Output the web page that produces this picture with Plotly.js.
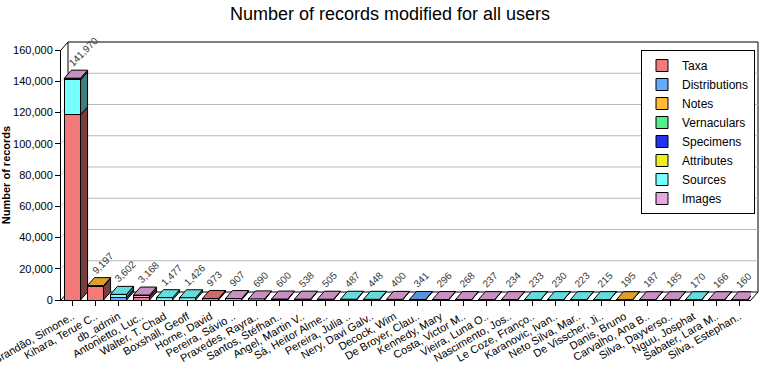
<!DOCTYPE html>
<html><head><meta charset="utf-8">
<script src="https://cdn.plot.ly/plotly-3.0.1.min.js"></script>
<style>html,body{margin:0;padding:0;background:#fff}#chart{width:780px;height:380px}</style>
</head><body><div id="chart"></div>
<script>
const users = ["Brandão, Simone..","Kihara, Terue C..","db_admin","Antonietto, Luc..","Walter, T. Chad","Boxshall, Geoff","Horne, David","Pereira, Sávio ..","Praxedes, Rayra..","Santos, Stéfhan..","Angel, Martin V..","Sá, Heitor Alme..","Pereira, Julia ..","Nery, Davi Galv..","Decock, Wim","De Broyer, Clau..","Kennedy, Mary","Costa, Victor M..","Vieira, Luna O..","Nascimento, Jos..","Le Coze, Franço..","Karanovic, Ivan..","Neto Silva, Mar..","De Visscher, Ji..","Danis, Bruno","Carvalho, Ana B..","Silva, Dayverso..","Nguu, Josphat","Sabater, Lara M..","Silva, Estephan.."];
const taxa          = [118500,8700,0,1800,0,0,973,0,0,0,0,0,0,0,0,0,0,0,0,0,0,0,0,0,0,0,0,0,0,0];
const distributions = [0,0,1500,0,0,0,0,0,0,0,0,0,0,0,0,341,0,0,0,0,0,0,0,0,0,0,0,0,0,0];
const notes         = [0,497,0,0,0,0,0,0,0,0,0,0,0,0,0,0,0,0,0,0,0,0,0,0,195,0,0,0,0,0];
const vernaculars   = [0,0,0,0,0,0,0,0,0,0,0,0,0,0,0,0,0,0,0,0,0,0,0,0,0,0,0,0,0,0];
const specimens     = [0,0,0,0,0,0,0,0,0,0,0,0,0,0,0,0,0,0,0,0,0,0,0,0,0,0,0,0,0,0];
const attributes    = [0,0,0,0,0,0,0,0,0,0,0,0,0,0,0,0,0,0,0,0,0,0,0,0,0,0,0,0,0,0];
const sources       = [22400,0,2102,0,1477,1426,0,0,0,0,0,0,487,448,0,0,0,0,0,0,233,230,223,215,0,0,0,170,0,0];
const images        = [1070,0,0,1368,0,0,0,907,690,600,538,505,0,0,400,0,296,268,237,234,0,0,0,0,0,187,185,0,166,160];
const seriesNames = ["Taxa","Distributions","Notes","Vernaculars","Specimens","Attributes","Sources","Images"];
const yTicks = [0,20000,40000,60000,80000,100000,120000,140000,160000];

const seriesData = [taxa,distributions,notes,vernaculars,specimens,attributes,sources,images];
const colors = ["#f27a7a","#66aaff","#ffbb33","#55ee88","#2233ee","#eeee22","#77ffff","#e6a8e0"];

function shade(hex,f){const n=parseInt(hex.slice(1),16);const r=Math.round(((n>>16)&255)*f),g=Math.round(((n>>8)&255)*f),b=Math.round((n&255)*f);return "rgb("+r+","+g+","+b+")";}

const N = users.length;
const xs = users.map((_,i)=>i);
const W = 0.7;
const DX = 7/23;
const DY = 8*160000/250;

const traces = [];
seriesData.forEach((arr,s)=>{
  traces.push({type:'bar',name:seriesNames[s],x:xs,y:arr,width:W,
    marker:{color:colors[s],line:{color:'#000',width:1}},hoverinfo:'skip'});
});

const totals = xs.map(i=>seriesData.reduce((a,arr)=>a+arr[i],0));
seriesData.forEach((arr,s)=>{
  const sx=[],sy=[],tx=[],ty=[];
  xs.forEach(i=>{
    if(!arr[i]) return;
    let b=0; for(let k=0;k<s;k++) b+=seriesData[k][i];
    const t=b+arr[i];
    const r=i+W/2, l=i-W/2;
    sx.push(r,r+DX,r+DX,r,r,null); sy.push(b,b+DY,t+DY,t,b,null);
    let isTop=true; for(let k=s+1;k<seriesData.length;k++) if(seriesData[k][i]) isTop=false;
    if(isTop){ tx.push(l,r,r+DX,l+DX,l,null); ty.push(t,t,t+DY,t+DY,t,null); }
  });
  if(sx.length) traces.push({type:'scatter',mode:'lines',x:sx,y:sy,fill:'toself',fillcolor:shade(colors[s],0.5),
    line:{color:'#000',width:1},showlegend:false,hoverinfo:'skip'});
  if(tx.length) traces.push({type:'scatter',mode:'lines',x:tx,y:ty,fill:'toself',fillcolor:shade(colors[s],0.86),
    line:{color:'#000',width:1},showlegend:false,hoverinfo:'skip'});
});

const L=61,T=50,PW=690,PH=250;
const X=px=>(px-L)/PW, Y=py=>(T+PH-py)/PH;
const shapes=[
  {type:'rect',xref:'paper',yref:'paper',x0:X(68),x1:X(758),y0:Y(292),y1:Y(42),line:{color:'#000',width:1},fillcolor:'#fff',layer:'below'},
  {type:'line',xref:'paper',yref:'paper',x0:X(61),y0:Y(50),x1:X(68),y1:Y(42),line:{color:'#000',width:1},layer:'below'},
  {type:'line',xref:'paper',yref:'paper',x0:X(61),y0:Y(300),x1:X(68),y1:Y(292),line:{color:'#000',width:1},layer:'below'},
  {type:'line',xref:'paper',yref:'paper',x0:X(751),y0:Y(300),x1:X(758),y1:Y(292),line:{color:'#000',width:1},layer:'below'}
];
yTicks.slice(1,-1).forEach(v=>{
  shapes.push({type:'line',xref:'paper',yref:'y',x0:X(68),x1:X(758),y0:v+DY,y1:v+DY,line:{color:'#b9b9b9',width:1},layer:'below'});
  shapes.push({type:'line',xref:'paper',yref:'y',x0:X(61),x1:X(68),y0:v,y1:v+DY,line:{color:'#d0d0d0',width:1},layer:'below'});
});

const annotations = xs.map(i=>({x:i-0.38,y:totals[i]+DY,xref:'x',yref:'y',text:totals[i].toLocaleString('en-US'),
  showarrow:false,textangle:-45,xanchor:'left',yanchor:'bottom',yshift:-1,
  font:{family:'Arial, Liberation Sans, sans-serif',size:10,color:'#3a3a3a'}}));

const layout = {
  width:780,height:380,margin:{l:L,r:780-L-PW,t:T,b:380-T-PH,pad:0},
  paper_bgcolor:'#fff',plot_bgcolor:'rgba(0,0,0,0)',
  font:{family:'Arial, Liberation Sans, sans-serif',color:'#000'},
  title:{text:'Number of records modified for all users',font:{size:18,color:'#000'},x:0.5,xanchor:'center',y:0.965,yanchor:'middle'},
  barmode:'stack',bargap:0.3,showlegend:true,
  xaxis:{range:[-0.5,N-0.5],tickvals:xs,ticktext:users,tickangle:-30,ticks:'outside',ticklen:5,tickcolor:'#000',
    ticklabeloverflow:'allow',
    showline:true,linecolor:'#000',linewidth:1,showgrid:false,zeroline:false,tickfont:{size:11,color:'#000'},fixedrange:true},
  yaxis:{range:[0,160000],tickvals:yTicks,tickformat:',',ticks:'outside',ticklen:5,tickcolor:'#000',
    showline:true,linecolor:'#000',linewidth:1,showgrid:false,zeroline:false,tickfont:{size:11,color:'#000'},
    title:{text:'<b>Number of records</b>',font:{size:11,color:'#000'},standoff:6},fixedrange:true},
  legend:{x:X(641),y:Y(50),xanchor:'left',yanchor:'top',bgcolor:'#fff',bordercolor:'#000',borderwidth:1,
    traceorder:'normal',font:{size:12,color:'#000'},itemclick:false},
  shapes:shapes,annotations:annotations
};
Plotly.newPlot('chart',traces,layout,{displayModeBar:false,staticPlot:true});
</script></body></html>
